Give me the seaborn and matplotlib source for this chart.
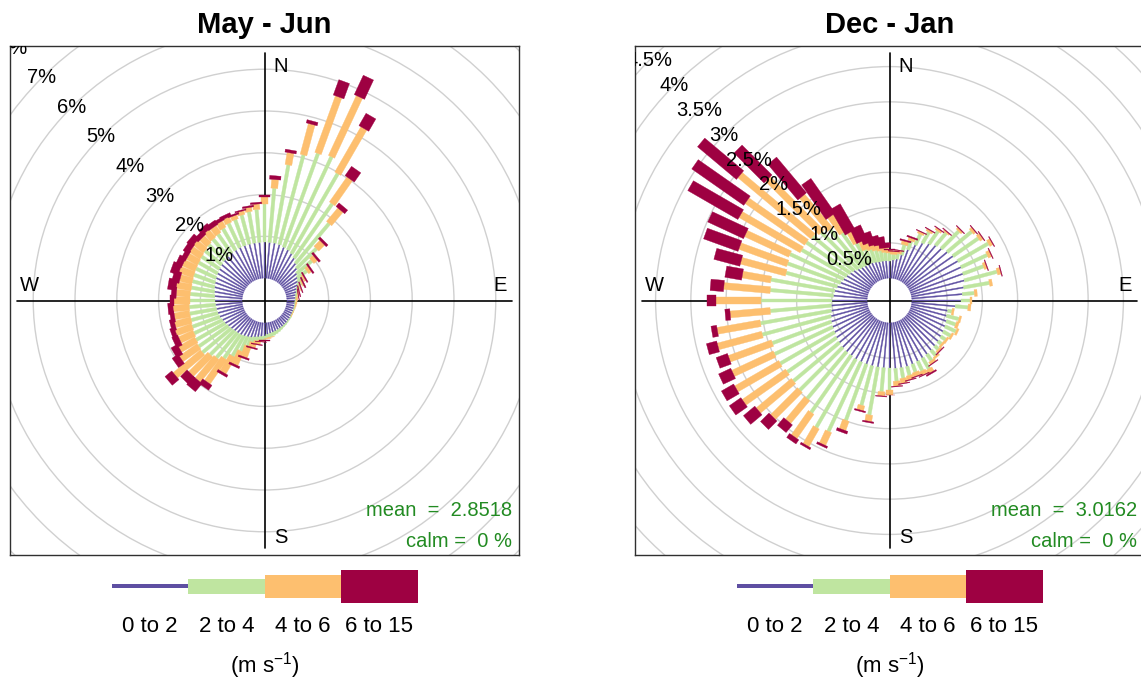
import numpy as np
import matplotlib
matplotlib.use("Agg")
import matplotlib.pyplot as plt
from matplotlib.patches import Circle
import seaborn as sns

# ---------------- data ----------------
directions = list(range(0, 360, 5))          # wind-direction bin centres (deg)
speed_labels = ["0 to 2", "2 to 4", "4 to 6", "6 to 15"]
unit_label = r"(m s$^{\mathregular{-1}}$)"
panel_titles = ["May - Jun", "Dec - Jan"]
mean_values = ["2.8518", "3.0162"]
calm_values = ["0 %", "0 %"]
ring_breaks_mayjun = [1, 2, 3, 4, 5, 6, 7, 8]
ring_breaks_decjan = [0.5, 1, 1.5, 2, 2.5, 3, 3.5, 4, 4.5]

# cumulative frequency (%) up to each speed class, per direction (0..355 step 5)
mayjun_upto2 = [0.86, 0.86, 0.86, 0.85, 0.82, 0.80, 0.76, 0.70, 0.62, 0.55, 0.47, 0.42,
                0.38, 0.33, 0.28, 0.25, 0.22, 0.21, 0.20, 0.19, 0.19, 0.19, 0.19, 0.19,
                0.19, 0.20, 0.20, 0.21, 0.21, 0.22, 0.22, 0.23, 0.24, 0.25, 0.26, 0.28,
                0.32, 0.33, 0.35, 0.37, 0.40, 0.42, 0.44, 0.46, 0.47, 0.48, 0.50, 0.52,
                0.55, 0.57, 0.60, 0.62, 0.63, 0.64, 0.65, 0.66, 0.68, 0.70, 0.72, 0.74,
                0.76, 0.78, 0.80, 0.82, 0.83, 0.84, 0.85, 0.86, 0.86, 0.86, 0.86, 0.86]
mayjun_upto4 = [1.77, 2.16, 2.76, 3.07, 3.21, 3.26, 2.97, 2.29, 1.87, 1.22, 0.94, 0.70,
                0.52, 0.44, 0.36, 0.30, 0.27, 0.25, 0.23, 0.22, 0.21, 0.21, 0.21, 0.20,
                0.21, 0.22, 0.22, 0.23, 0.24, 0.25, 0.27, 0.29, 0.31, 0.33, 0.35, 0.37,
                0.40, 0.42, 0.45, 0.50, 0.62, 0.80, 1.00, 1.15, 1.25, 1.30, 1.40, 1.38,
                1.35, 1.32, 1.30, 1.28, 1.28, 1.27, 1.25, 1.25, 1.24, 1.25, 1.26, 1.27,
                1.28, 1.30, 1.32, 1.35, 1.38, 1.40, 1.45, 1.50, 1.52, 1.58, 1.62, 1.65]
mayjun_upto6 = [1.94, 2.37, 3.05, 3.83, 4.65, 4.84, 4.22, 3.02, 2.29, 1.42, 1.05, 0.78,
                0.56, 0.47, 0.38, 0.31, 0.28, 0.26, 0.24, 0.23, 0.22, 0.21, 0.21, 0.21,
                0.21, 0.22, 0.22, 0.23, 0.24, 0.25, 0.27, 0.29, 0.31, 0.33, 0.36, 0.38,
                0.42, 0.45, 0.52, 0.62, 0.90, 1.15, 1.45, 1.85, 1.95, 1.95, 2.25, 1.90,
                1.80, 1.70, 1.72, 1.68, 1.65, 1.66, 1.62, 1.58, 1.60, 1.55, 1.62, 1.60,
                1.58, 1.60, 1.62, 1.58, 1.62, 1.60, 1.62, 1.64, 1.62, 1.67, 1.72, 1.78]
mayjun_upto15 = [1.99, 2.46, 3.12, 3.91, 5.04, 5.35, 4.56, 3.29, 2.40, 1.48, 1.10, 0.82,
                 0.59, 0.50, 0.40, 0.33, 0.29, 0.26, 0.24, 0.23, 0.22, 0.21, 0.21, 0.21,
                 0.21, 0.22, 0.22, 0.23, 0.24, 0.25, 0.27, 0.29, 0.31, 0.33, 0.36, 0.38,
                 0.43, 0.46, 0.54, 0.65, 0.94, 1.20, 1.51, 1.99, 2.20, 2.17, 2.46, 2.07,
                 1.97, 1.85, 1.83, 1.79, 1.75, 1.78, 1.73, 1.70, 1.80, 1.73, 1.82, 1.76,
                 1.70, 1.75, 1.78, 1.70, 1.76, 1.72, 1.70, 1.72, 1.66, 1.70, 1.76, 1.82]

decjan_upto2 = [0.25, 0.26, 0.28, 0.35, 0.45, 0.55, 0.62, 0.66, 0.70, 0.72, 0.75, 0.78,
                0.80, 0.80, 0.79, 0.78, 0.75, 0.72, 0.69, 0.62, 0.52, 0.52, 0.54, 0.55,
                0.56, 0.57, 0.58, 0.59, 0.60, 0.61, 0.62, 0.63, 0.64, 0.65, 0.65, 0.65,
                0.64, 0.64, 0.64, 0.64, 0.64, 0.64, 0.64, 0.63, 0.63, 0.62, 0.61, 0.60,
                0.58, 0.57, 0.56, 0.54, 0.52, 0.51, 0.50, 0.48, 0.47, 0.45, 0.42, 0.40,
                0.38, 0.36, 0.34, 0.31, 0.29, 0.28, 0.27, 0.27, 0.26, 0.25, 0.25, 0.25]
decjan_upto4 = [0.35, 0.34, 0.36, 0.50, 0.58, 0.72, 0.80, 0.88, 0.93, 1.07, 1.20, 1.22,
                1.30, 1.21, 1.10, 1.26, 1.12, 0.89, 0.83, 0.80, 0.58, 0.70, 0.68, 0.72,
                0.68, 0.65, 0.64, 0.66, 0.70, 0.72, 0.80, 0.78, 0.76, 0.78, 0.80, 0.83,
                0.95, 0.98, 1.33, 1.22, 1.49, 1.73, 1.76, 1.62, 1.50, 1.48, 1.46, 1.45,
                1.47, 1.48, 1.45, 1.55, 1.54, 1.38, 1.51, 1.38, 1.39, 1.20, 1.22, 1.24,
                1.12, 1.12, 1.10, 1.05, 1.00, 0.85, 0.62, 0.48, 0.45, 0.42, 0.40, 0.37]
decjan_upto6 = [0.40, 0.38, 0.40, 0.55, 0.62, 0.75, 0.83, 0.91, 0.95, 1.10, 1.24, 1.27,
                1.35, 1.26, 1.14, 1.31, 1.16, 0.93, 0.86, 0.84, 0.61, 0.73, 0.72, 0.75,
                0.71, 0.68, 0.67, 0.69, 0.73, 0.76, 0.86, 0.84, 0.82, 0.84, 0.87, 0.90,
                1.02, 1.04, 1.42, 1.29, 1.63, 1.93, 2.05, 2.04, 1.92, 2.02, 2.11, 2.20,
                2.19, 2.13, 2.10, 2.20, 2.16, 1.95, 2.15, 2.04, 1.80, 1.86, 1.94, 1.93,
                2.12, 2.15, 2.45, 2.12, 1.61, 1.14, 0.80, 0.61, 0.55, 0.50, 0.48, 0.43]
decjan_upto15 = [0.42, 0.39, 0.41, 0.57, 0.64, 0.76, 0.84, 0.92, 0.96, 1.11, 1.25, 1.28,
                 1.36, 1.27, 1.15, 1.32, 1.16, 0.93, 0.86, 0.84, 0.61, 0.73, 0.72, 0.75,
                 0.71, 0.68, 0.67, 0.70, 0.73, 0.77, 0.88, 0.85, 0.83, 0.85, 0.88, 0.91,
                 1.03, 1.05, 1.44, 1.31, 1.67, 1.96, 2.08, 2.11, 2.06, 2.19, 2.32, 2.40,
                 2.39, 2.32, 2.27, 2.35, 2.24, 2.02, 2.27, 2.23, 2.04, 2.24, 2.46, 2.49,
                 2.94, 3.05, 3.17, 2.72, 2.27, 1.74, 1.22, 0.83, 0.70, 0.62, 0.59, 0.50]

# ---------------- style ----------------
sns.set_theme(style="white")
plt.rcParams['font.family'] = ['Liberation Sans', 'DejaVu Sans']
plt.rcParams['mathtext.fontset'] = 'custom'
plt.rcParams['mathtext.rm'] = 'Liberation Sans'
plt.rcParams['text.color'] = 'black'
plt.rcParams['axes.titlecolor'] = 'black'
plt.rcParams['xtick.color'] = 'black'
plt.rcParams['xtick.labelcolor'] = 'black'

spectral_r = ["#5E4FA2", "#3288BD", "#66C2A5", "#ABDDA4", "#E6F598", "#FFFFBF",
              "#FEE08B", "#FDAE61", "#F46D43", "#D53E4F", "#9E0142"]
colours = sns.blend_palette(spectral_r, len(speed_labels))

half_widths = [0.0024, 0.0068, 0.0134, 0.0222]   # paddle half width, fraction of limit
key_heights = [4.5, 15, 23, 33]                     # key bar heights in pixels

W, H = 1141, 680
fig = plt.figure(figsize=(W / 100, H / 100), dpi=100)
fig.patch.set_facecolor("white")


def draw_rose(left_px, top_px, size_px, levels, rings, title, mean_txt, calm_txt):
    ax = fig.add_axes([left_px / W, 1 - (top_px + size_px) / H, size_px / W, size_px / H])
    top = max(levels[-1])
    off = 0.1 * top
    lim = (top + off) * 1.035
    ax.set_xlim(-lim, lim)
    ax.set_ylim(-lim, lim)
    ax.set_xticks([])
    ax.set_yticks([])
    ax.set_facecolor("white")
    for sp in ax.spines.values():
        sp.set_visible(True)
        sp.set_color("#303030")
        sp.set_linewidth(1.0)

    for b in rings:
        ax.add_patch(Circle((0, 0), b + off, fill=False, ec="#D0D0D0", lw=1.0, zorder=1))
        r = (b + off) / np.sqrt(2)
        ax.text(-r, r, f"{b:g}%", ha="center", va="center", fontsize=14.5,
                color="black", zorder=6, clip_on=True)

    L = 0.972 * lim
    ax.plot([-L, L], [0, 0], color="black", lw=1.2, zorder=2)
    ax.plot([0, 0], [-L, L], color="black", lw=1.2, zorder=2)

    th = np.deg2rad(np.asarray(directions, dtype=float))
    s, c = np.sin(th), np.cos(th)
    inner = np.zeros(len(directions))
    for lev, col, hw in zip(levels, colours, half_widths):
        outer = np.asarray(lev, dtype=float)
        l1, l2 = inner + off, outer + off
        w = hw * lim
        for i in range(len(directions)):
            if outer[i] <= inner[i]:
                continue
            xs = [l1[i] * s[i] - w * c[i], l1[i] * s[i] + w * c[i],
                  l2[i] * s[i] + w * c[i], l2[i] * s[i] - w * c[i]]
            ys = [l1[i] * c[i] + w * s[i], l1[i] * c[i] - w * s[i],
                  l2[i] * c[i] - w * s[i], l2[i] * c[i] + w * s[i]]
            ax.fill(xs, ys, color=col, lw=0.25, ec=col, zorder=3)
        inner = outer

    fs = 14.5
    ax.text(0.064 * lim, 0.918 * lim, "N", ha="center", va="center", fontsize=fs, zorder=7)
    ax.text(0.926 * lim, 0.059 * lim, "E", ha="center", va="center", fontsize=fs, zorder=7)
    ax.text(-0.922 * lim, 0.059 * lim, "W", ha="center", va="center", fontsize=fs, zorder=7)
    ax.text(0.064 * lim, -0.93 * lim, "S", ha="center", va="center", fontsize=fs, zorder=7)
    ax.text(0.972 * lim, -0.827 * lim, f"mean  =  {mean_txt}", ha="right", va="center",
            fontsize=fs, color="forestgreen", zorder=7)
    ax.text(0.972 * lim, -0.945 * lim, f"calm =  {calm_txt}", ha="right", va="center",
            fontsize=fs, color="forestgreen", zorder=7)
    ax.set_title(title, fontsize=21, fontweight="bold", pad=9.5, color="black")

    # speed key
    cx = left_px + size_px / 2
    kx0, kw, ky, kh = cx - 153, 306, 566, 40
    kax = fig.add_axes([kx0 / W, 1 - (ky + kh) / H, kw / W, kh / H])
    kax.bar(np.arange(len(speed_labels)) + 0.5, key_heights,
            bottom=-np.asarray(key_heights) / 2, width=1.0, color=colours, lw=0)
    kax.set_xlim(0, len(speed_labels))
    kax.set_ylim(-kh / 2, kh / 2)
    kax.set_xticks(np.arange(len(speed_labels)) + 0.5)
    kax.set_xticklabels(speed_labels, fontsize=16, color="black")
    kax.tick_params(axis="x", length=0, pad=7)
    kax.set_yticks([])
    for sp in kax.spines.values():
        sp.set_visible(False)
    kax.patch.set_alpha(0)
    fig.text(cx / W, 1 - 666 / H, unit_label, ha="center", va="center", fontsize=16,
             color="black")


draw_rose(10, 46, 509, [mayjun_upto2, mayjun_upto4, mayjun_upto6, mayjun_upto15],
          ring_breaks_mayjun, panel_titles[0], mean_values[0], calm_values[0])
draw_rose(635, 46, 509, [decjan_upto2, decjan_upto4, decjan_upto6, decjan_upto15],
          ring_breaks_decjan, panel_titles[1], mean_values[1], calm_values[1])

fig.savefig("out.png", dpi=100, facecolor="white")
